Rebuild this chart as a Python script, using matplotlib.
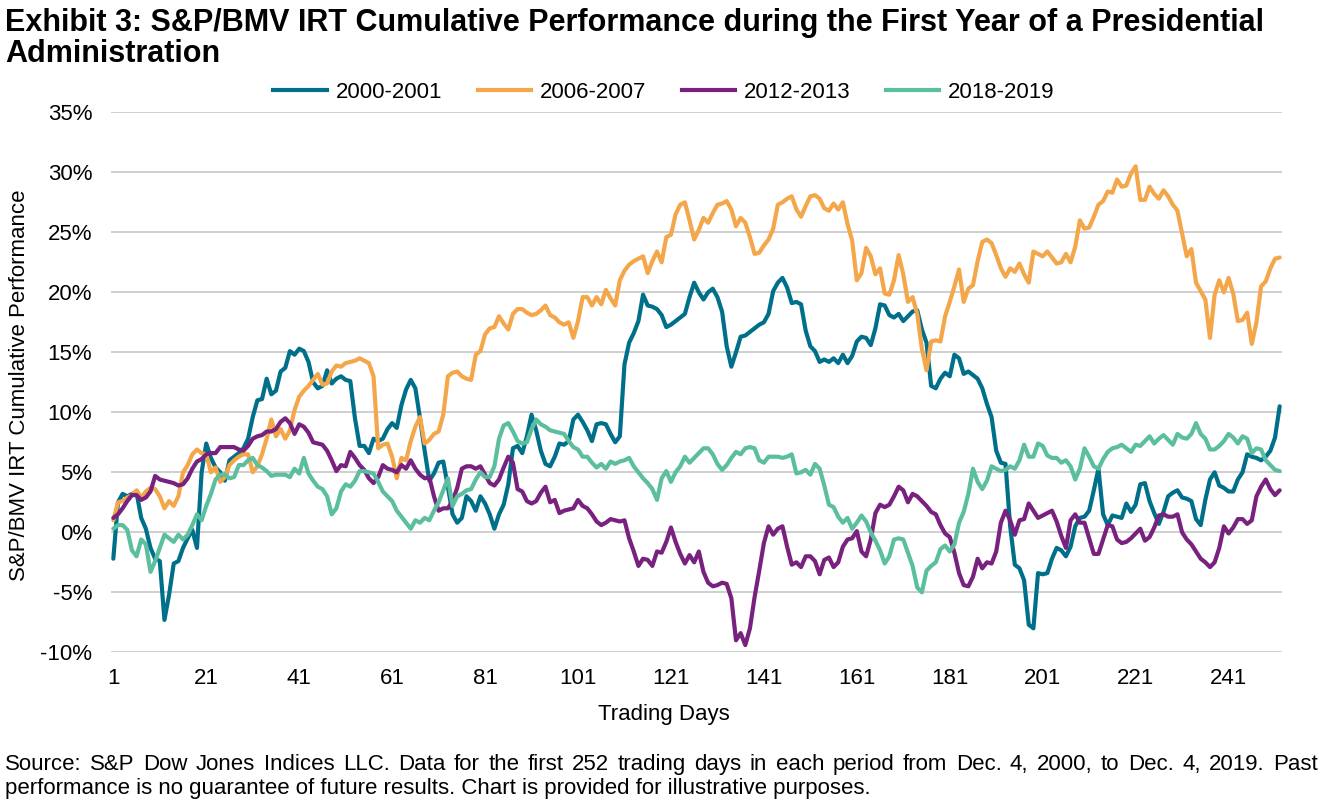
import matplotlib
matplotlib.use('Agg')
import matplotlib.pyplot as plt
from matplotlib.lines import Line2D

plt.rcParams['font.family'] = ['Liberation Sans', 'DejaVu Sans']

# ---------------- data ----------------
days = list(range(1, 253))
x_ticks = list(range(1, 252, 20))
y_ticks = list(range(-10, 36, 5))
y_tick_labels = [f"{v}%" for v in y_ticks]
series_labels = ["2000-2001", "2006-2007", "2012-2013", "2018-2019"]

perf_2000_2001 = [
    -2.2, 2.5, 3.2, 3.0, 3.2, 3.3, 1.2, 0.3, -1.3, -2.2,
    -2.4, -7.3, -5.2, -2.6, -2.4, -1.3, -0.5, 0.2, -1.3, 5.0,
    7.4, 6.2, 5.4, 5.0, 4.3, 6.0, 6.3, 6.6, 7.0, 7.8,
    9.6, 11.0, 11.1, 12.8, 11.5, 11.8, 13.4, 13.7, 15.1, 14.8,
    15.3, 15.1, 14.2, 12.5, 12.0, 12.2, 13.5, 12.4, 12.8, 13.0,
    12.7, 12.6, 9.5, 7.2, 7.2, 6.6, 7.8, 7.6, 7.8, 8.6,
    9.1, 8.7, 10.6, 11.9, 12.7, 12.0, 9.5, 6.8, 4.3, 4.9,
    5.8, 5.9, 3.8, 1.5, 0.8, 1.2, 3.0, 2.6, 1.8, 3.0,
    2.4, 1.5, 0.3, 1.5, 2.3, 4.0, 7.0, 7.2, 6.6, 8.0,
    9.8, 8.5, 6.8, 5.7, 5.5, 6.3, 7.4, 7.3, 7.6, 9.4,
    9.8, 9.2, 8.5, 7.6, 9.0, 9.1, 9.0, 8.2, 7.5, 8.0,
    14.0, 15.8, 16.6, 17.6, 19.8, 18.9, 18.8, 18.6, 18.1, 17.1,
    17.3, 17.6, 17.9, 18.2, 19.6, 20.8, 20.0, 19.4, 20.0, 20.3,
    19.6, 18.4, 15.5, 13.8, 15.0, 16.3, 16.4, 16.7, 17.0, 17.3,
    17.5, 18.2, 20.1, 20.8, 21.2, 20.4, 19.1, 19.2, 19.0, 16.8,
    15.5, 15.1, 14.2, 14.4, 14.2, 14.5, 14.1, 14.8, 14.1, 14.7,
    15.9, 16.3, 16.2, 15.6, 17.0, 19.0, 18.9, 18.1, 17.9, 18.2,
    17.6, 18.0, 18.4, 18.5, 16.9, 15.8, 12.2, 12.0, 12.8, 13.3,
    13.0, 14.8, 14.5, 13.2, 13.4, 13.1, 12.8, 12.0, 10.7, 9.6,
    6.8, 5.8, 5.7, 0.5, -2.7, -3.0, -4.0, -7.7, -8.0, -3.4,
    -3.5, -3.4, -2.2, -1.3, -1.5, -2.0, -1.2, 0.5, 1.2, 1.3,
    1.8, 3.5, 5.3, 1.5, 0.6, 1.4, 1.3, 1.2, 2.4, 1.7,
    2.3, 4.0, 4.1, 2.6, 1.6, 0.7, 1.7, 3.0, 3.3, 3.5,
    2.9, 2.8, 2.6, 1.1, 0.6, 2.7, 4.4, 5.0, 3.9, 3.7,
    3.4, 3.4, 4.4, 5.0, 6.5, 6.3, 6.2, 6.0, 6.3, 6.8,
    7.9, 10.5,
]

perf_2006_2007 = [
    1.0, 2.5, 2.6, 2.9, 3.1, 3.5, 2.9, 3.4, 3.7, 3.6,
    3.0, 2.0, 2.6, 2.2, 3.0, 5.0, 5.6, 6.5, 6.9, 6.6,
    6.5, 5.0, 5.4, 4.2, 4.6, 5.6, 6.0, 6.3, 6.5, 6.5,
    5.0, 5.5, 6.5, 7.8, 9.4, 8.0, 8.6, 7.8, 8.5, 10.2,
    11.3, 11.8, 12.2, 12.7, 13.2, 12.3, 12.4, 13.4, 13.9, 13.8,
    14.1, 14.2, 14.3, 14.5, 14.3, 14.1, 13.0, 7.0, 7.3, 7.4,
    6.3, 4.5, 6.2, 6.0, 7.6, 8.8, 9.6, 7.4, 7.7, 8.2,
    8.4, 9.8, 13.0, 13.3, 13.4, 13.0, 12.8, 12.7, 14.8, 15.1,
    16.5, 17.0, 17.1, 18.0, 17.4, 16.9, 18.2, 18.6, 18.6, 18.3,
    18.1, 18.2, 18.5, 18.9, 18.1, 17.9, 17.5, 17.3, 17.5, 16.2,
    17.6, 19.6, 19.6, 18.9, 19.6, 19.0, 20.2, 19.5, 18.9, 21.0,
    21.8, 22.3, 22.6, 22.8, 23.0, 21.6, 22.6, 23.4, 22.5, 24.6,
    24.8, 26.5, 27.3, 27.5, 26.0, 24.4, 25.2, 26.2, 25.8, 26.6,
    27.3, 27.4, 27.6, 26.9, 25.5, 26.2, 25.8, 24.6, 23.2, 23.3,
    23.9, 24.4, 25.3, 27.3, 27.5, 27.8, 28.0, 26.9, 26.3, 27.2,
    28.0, 28.1, 27.8, 27.0, 26.8, 27.4, 26.9, 27.5, 25.7, 24.3,
    21.0, 21.6, 23.7, 23.0, 21.5, 22.0, 19.9, 19.8, 21.0, 23.1,
    21.5, 19.2, 19.6, 18.2, 15.3, 13.5, 15.9, 16.0, 15.9, 18.0,
    19.2, 20.5, 21.9, 19.2, 20.3, 20.6, 22.6, 24.2, 24.4, 24.1,
    23.1, 22.0, 21.3, 22.0, 21.7, 22.4, 21.5, 20.8, 23.4, 23.2,
    23.0, 23.4, 22.9, 22.4, 22.5, 23.2, 22.5, 23.8, 26.0, 25.3,
    25.4, 26.3, 27.3, 27.6, 28.4, 28.3, 29.4, 28.8, 28.9, 29.9,
    30.5, 27.7, 27.7, 28.8, 28.2, 27.8, 28.5, 28.0, 27.3, 26.8,
    24.9, 23.0, 23.6, 20.8, 20.1, 19.4, 16.2, 19.8, 21.0, 20.0,
    21.2, 19.9, 17.6, 17.7, 18.3, 15.7, 17.5, 20.5, 20.9, 22.0,
    22.8, 22.9,
]

perf_2012_2013 = [
    1.2, 1.5, 2.0, 2.6, 3.1, 3.1, 2.7, 2.9, 3.4, 4.7,
    4.4, 4.3, 4.2, 4.1, 3.9, 4.0, 4.5, 5.3, 5.9, 6.1,
    6.5, 6.6, 6.6, 7.1, 7.1, 7.1, 7.1, 6.9, 6.8, 7.2,
    7.8, 8.0, 8.1, 8.4, 8.4, 8.6, 9.2, 9.5, 9.1, 8.2,
    9.0, 8.8, 8.3, 7.5, 7.4, 7.3, 6.8, 6.0, 5.1, 5.6,
    5.5, 6.7, 6.2, 5.6, 5.2, 4.5, 4.1, 4.6, 5.6, 5.3,
    5.2, 5.0, 5.6, 5.3, 6.0, 5.3, 4.8, 4.5, 4.6, 3.0,
    1.8, 2.0, 2.0, 2.6, 3.7, 5.3, 5.5, 5.5, 5.3, 5.5,
    4.8, 4.1, 3.9, 4.4, 5.4, 6.3, 5.8, 3.6, 3.4, 2.6,
    2.4, 2.6, 3.3, 3.8, 2.5, 2.7, 1.6, 1.8, 1.9, 2.0,
    2.7, 2.2, 2.0, 1.5, 0.9, 0.6, 0.8, 1.1, 1.0, 0.9,
    1.0, -0.5, -1.6, -2.8, -2.2, -2.3, -2.8, -1.6, -1.7, -0.8,
    0.4, -0.8, -1.8, -2.6, -1.9, -2.5, -1.6, -3.3, -4.2, -4.5,
    -4.4, -4.2, -4.3, -5.5, -9.0, -8.4, -9.4, -8.0, -5.4, -3.2,
    -0.9, 0.5, -0.2, 0.3, 0.5, -1.2, -2.7, -2.5, -2.9, -2.0,
    -2.0, -2.4, -3.5, -2.3, -2.1, -2.9, -2.5, -1.2, -0.6, -0.5,
    0.1, -1.6, -2.0, -0.6, 1.6, 2.3, 2.1, 2.3, 3.0, 3.8,
    3.5, 2.5, 3.2, 3.0, 2.6, 2.2, 1.7, 1.5, 0.6, -0.1,
    -0.4, -1.7, -3.4, -4.4, -4.5, -3.7, -2.2, -3.0, -2.5, -2.6,
    -1.6, 0.8, 1.8, 1.0, -0.2, 1.0, 1.1, 2.4, 1.8, 1.2,
    1.4, 1.6, 1.8, 0.9, -0.3, -1.3, 1.0, 1.5, 0.8, 0.8,
    -0.5, -1.8, -1.8, -0.6, 0.6, 0.5, -0.6, -0.9, -0.8, -0.5,
    -0.1, 0.3, -0.7, -0.4, 0.4, 1.4, 1.5, 1.3, 1.3, 1.5,
    0.0, -0.6, -1.0, -1.6, -2.2, -2.5, -2.9, -2.5, -1.3, 0.5,
    -0.1, 0.4, 1.1, 1.1, 0.7, 1.0, 3.0, 3.8, 4.4, 3.6,
    3.1, 3.5,
]

perf_2018_2019 = [
    0.3, 0.6, 0.6, 0.2, -1.5, -2.0, -0.6, -1.0, -3.3, -2.4,
    -1.3, -0.2, -0.5, -0.8, -0.2, -0.6, -0.2, 0.6, 1.5, 1.0,
    2.2, 3.2, 4.4, 4.8, 4.8, 4.5, 4.6, 5.6, 5.6, 6.0,
    6.2, 5.6, 5.4, 5.1, 4.7, 4.8, 4.8, 4.8, 4.6, 5.3,
    4.9, 6.2, 4.9, 4.3, 3.8, 3.6, 3.0, 1.5, 2.0, 3.4,
    4.0, 3.8, 4.3, 5.1, 5.1, 5.0, 4.9, 4.2, 3.4, 3.0,
    2.6, 1.8, 1.3, 0.8, 0.3, 1.0, 0.8, 1.2, 1.0, 1.8,
    2.5, 3.5, 4.5, 2.2, 3.0, 3.2, 3.5, 3.6, 4.4, 5.0,
    4.6, 4.6, 5.5, 7.8, 8.9, 9.1, 8.4, 7.6, 7.4, 7.5,
    8.6, 9.4, 9.0, 8.8, 8.5, 8.4, 8.3, 8.2, 7.6, 7.1,
    6.9, 6.3, 6.3, 5.8, 5.4, 5.7, 5.3, 5.9, 5.7, 5.9,
    6.0, 6.2, 5.5, 5.0, 4.5, 4.1, 3.6, 2.7, 4.5, 5.1,
    4.2, 5.0, 5.5, 6.3, 5.8, 6.2, 6.6, 7.0, 7.0, 6.5,
    5.7, 5.2, 5.6, 6.2, 6.7, 6.5, 7.0, 7.1, 7.0, 6.0,
    5.8, 6.3, 6.3, 6.3, 6.2, 6.3, 6.5, 4.9, 5.0, 5.2,
    4.8, 5.7, 5.3, 3.9, 2.3, 2.1, 1.3, 0.8, 1.2, 0.3,
    0.8, 1.4, 0.9, 0.0, -0.7, -1.5, -2.6, -2.0, -0.6, -0.5,
    -0.6, -1.7, -2.8, -4.6, -5.0, -3.2, -2.8, -2.5, -1.4, -1.1,
    -1.6, -1.0, 0.8, 1.7, 3.2, 5.3, 4.2, 3.6, 4.3, 5.5,
    5.3, 5.1, 5.2, 5.5, 5.3, 6.0, 7.3, 6.3, 6.3, 7.4,
    7.2, 6.4, 6.2, 6.2, 5.8, 6.0, 5.5, 4.4, 5.3, 7.0,
    6.3, 5.5, 5.3, 6.1, 6.7, 7.0, 7.1, 7.3, 7.0, 6.7,
    7.3, 7.2, 7.6, 8.0, 7.4, 7.8, 8.1, 7.7, 7.3, 8.2,
    7.9, 7.8, 8.2, 9.1, 8.2, 7.8, 6.9, 6.9, 7.2, 7.6,
    8.2, 7.9, 7.4, 8.0, 7.8, 6.6, 7.0, 6.9, 6.0, 5.6,
    5.2, 5.1,
]

all_series = [perf_2000_2001, perf_2006_2007, perf_2012_2013, perf_2018_2019]
colors = ["#00708A", "#F4A64A", "#78217F", "#5BBF9F"]

title_line1 = "Exhibit 3: S&P/BMV IRT Cumulative Performance during the First Year of a Presidential"
title_line2 = "Administration"
y_label = "S&P/BMV IRT Cumulative Performance"
x_label = "Trading Days"
foot1 = ("Source: S&P Dow Jones Indices LLC. Data for the first 252 trading days in each "
         "period from Dec. 4, 2000, to Dec. 4, 2019. Past")
foot2 = "performance is no guarantee of future results. Chart is provided for illustrative purposes."

# ---------------- figure ----------------
W, H = 1325, 805
fig = plt.figure(figsize=(W / 100, H / 100), dpi=100)
fig.patch.set_facecolor("white")


def fx(px):
    return px / W


def fy(py):
    return 1 - py / H


ax = fig.add_axes([fx(111), fy(652.3), fx(1282) - fx(111), fy(112.3) - fy(652.3)])
for vals, lab, col in zip(all_series, series_labels, colors):
    n = min(len(days), len(vals))
    ax.plot(days[:n], vals[:n], color=col, lw=3.0, label=lab,
            solid_joinstyle="round", solid_capstyle="round")

ax.set_xlim(0.5, 252.5)
ax.set_ylim(-10, 35)
ax.set_yticks(y_ticks)
ax.set_yticklabels(y_tick_labels)
ax.set_xticks(x_ticks)
ax.set_xticklabels([str(t) for t in x_ticks])
ax.grid(axis="y", color="#CBCBCB", lw=1.3)
ax.grid(axis="x", visible=False)
ax.set_axisbelow(True)
for sp in ax.spines.values():
    sp.set_visible(False)
ax.tick_params(length=0, labelsize=16, colors="black")
ax.tick_params(axis="x", pad=11)
ax.tick_params(axis="y", pad=13.5)

# legend
handles = [Line2D([0], [0], color=c, lw=3.0) for c in colors]
fig.legend(handles, series_labels, loc="center", bbox_to_anchor=(fx(664), fy(92)),
           ncol=4, frameon=False, fontsize=16, handlelength=2.4,
           handletextpad=0.4, columnspacing=1.6)

# titles
fig.text(fx(5), fy(31), title_line1, fontsize=22, fontweight="bold", va="baseline", ha="left")
fig.text(fx(5), fy(62), title_line2, fontsize=22, fontweight="bold", va="baseline", ha="left")

# axis labels
fig.text(fx(664), fy(720), x_label, fontsize=16, ha="center", va="baseline")
fig.text(fx(20), fy(385), y_label, fontsize=16, ha="center", va="center", rotation=90)

# footnote, first line justified
renderer = fig.canvas.get_renderer()
words = foot1.split(" ")
wtexts = [fig.text(0, fy(770), w, fontsize=16, va="baseline", ha="left") for w in words]
widths = [t.get_window_extent(renderer).width for t in wtexts]
left_px, right_px = 5, 1318
gap = (right_px - left_px - sum(widths)) / (len(words) - 1)
xpos = left_px
for t, w in zip(wtexts, widths):
    t.set_x(fx(xpos))
    xpos += w + gap
fig.text(fx(5), fy(794), foot2, fontsize=16, va="baseline", ha="left")

fig.savefig("out.png", dpi=100, facecolor="white")
